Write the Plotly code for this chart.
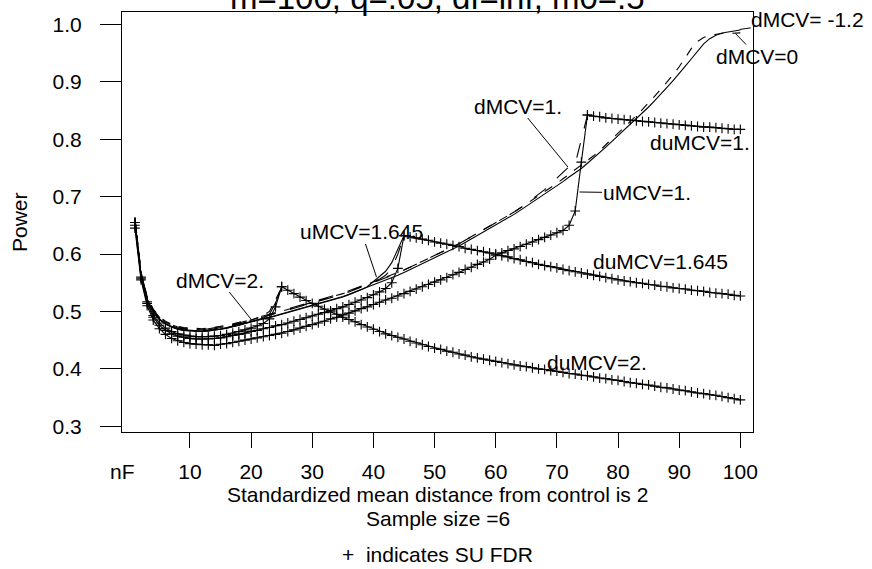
import plotly.graph_objects as go

# ---------------- data ----------------
x_all = list(range(1, 101))

d_m12 = [0.660, 0.565, 0.522, 0.500, 0.487, 0.479, 0.474, 0.470, 0.468, 0.467,
         0.466, 0.466, 0.467, 0.468, 0.470, 0.472, 0.474, 0.477, 0.480, 0.483,
         0.486, 0.488, 0.490, 0.493, 0.495, 0.498, 0.501, 0.504, 0.507, 0.510,
         0.513, 0.516, 0.519, 0.522, 0.526, 0.530, 0.534, 0.538, 0.542, 0.546,
         0.550, 0.554, 0.559, 0.563, 0.568, 0.573, 0.578, 0.583, 0.588, 0.593,
         0.598, 0.603, 0.608, 0.614, 0.620, 0.626, 0.632, 0.638, 0.644, 0.650,
         0.656, 0.662, 0.669, 0.676, 0.683, 0.690, 0.697, 0.704, 0.711, 0.718,
         0.726, 0.734, 0.741, 0.749, 0.758, 0.767, 0.776, 0.786, 0.796, 0.806,
         0.815, 0.825, 0.835, 0.845, 0.856, 0.867, 0.878, 0.890, 0.902, 0.914,
         0.927, 0.940, 0.953, 0.966, 0.975, 0.981, 0.985, 0.987, 0.989, 0.990]

d_0 = [0.662, 0.567, 0.524, 0.502, 0.489, 0.481, 0.476, 0.472, 0.470, 0.469,
       0.468, 0.468, 0.469, 0.470, 0.472, 0.474, 0.476, 0.479, 0.482, 0.485,
       0.488, 0.491, 0.494, 0.497, 0.500, 0.503, 0.506, 0.509, 0.512, 0.515,
       0.518, 0.521, 0.524, 0.527, 0.531, 0.535, 0.539, 0.543, 0.547, 0.551,
       0.555, 0.559, 0.563, 0.567, 0.572, 0.577, 0.582, 0.587, 0.592, 0.597,
       0.602, 0.607, 0.612, 0.618, 0.624, 0.630, 0.636, 0.642, 0.648, 0.654,
       0.660, 0.666, 0.673, 0.680, 0.687, 0.694, 0.701, 0.708, 0.716, 0.723,
       0.731, 0.739, 0.746, 0.754, 0.762, 0.771, 0.780, 0.790, 0.800, 0.810,
       0.820, 0.830, 0.841, 0.852, 0.863, 0.875, 0.887, 0.899, 0.912, 0.926,
       0.941, 0.958, 0.970, 0.977, 0.981, 0.983, 0.984, 0.984, 0.984, 0.985]

x_75 = list(range(1, 76))
d_1 = [0.661, 0.566, 0.523, 0.501, 0.488, 0.480, 0.475, 0.471, 0.469, 0.468,
       0.467, 0.467, 0.468, 0.469, 0.471, 0.473, 0.475, 0.478, 0.481, 0.484,
       0.487, 0.490, 0.493, 0.496, 0.499, 0.502, 0.505, 0.508, 0.511, 0.514,
       0.517, 0.520, 0.523, 0.526, 0.530, 0.534, 0.538, 0.542, 0.546, 0.550,
       0.554, 0.558, 0.563, 0.567, 0.572, 0.577, 0.582, 0.587, 0.592, 0.597,
       0.602, 0.607, 0.612, 0.618, 0.624, 0.630, 0.636, 0.642, 0.648, 0.654,
       0.660, 0.666, 0.673, 0.680, 0.687, 0.696, 0.704, 0.712, 0.722, 0.732,
       0.742, 0.752, 0.757, 0.800, 0.842]
u_1 = [0.645, 0.555, 0.510, 0.485, 0.470, 0.460, 0.453, 0.449, 0.446, 0.444,
       0.443, 0.442, 0.442, 0.441, 0.443, 0.444, 0.446, 0.448, 0.450, 0.452,
       0.454, 0.456, 0.458, 0.460, 0.462, 0.465, 0.468, 0.471, 0.474, 0.477,
       0.480, 0.483, 0.487, 0.490, 0.494, 0.497, 0.501, 0.505, 0.508, 0.512,
       0.516, 0.520, 0.523, 0.527, 0.531, 0.535, 0.539, 0.543, 0.547, 0.551,
       0.555, 0.559, 0.564, 0.568, 0.573, 0.577, 0.582, 0.586, 0.591, 0.598,
       0.602, 0.606, 0.609, 0.613, 0.617, 0.621, 0.625, 0.629, 0.633, 0.637,
       0.641, 0.650, 0.675, 0.760, 0.842]

x_45 = list(range(1, 46))
d_1645 = [0.663, 0.568, 0.525, 0.503, 0.490, 0.482, 0.477, 0.473, 0.471, 0.470,
          0.469, 0.469, 0.470, 0.471, 0.473, 0.475, 0.477, 0.480, 0.483, 0.486,
          0.489, 0.492, 0.495, 0.498, 0.501, 0.504, 0.507, 0.510, 0.513, 0.516,
          0.519, 0.522, 0.525, 0.528, 0.532, 0.536, 0.540, 0.544, 0.548, 0.552,
          0.556, 0.563, 0.575, 0.600, 0.632]
u_1645 = [0.658, 0.563, 0.520, 0.498, 0.486, 0.478, 0.473, 0.469, 0.467, 0.466,
          0.465, 0.465, 0.466, 0.467, 0.469, 0.471, 0.473, 0.476, 0.479, 0.482,
          0.485, 0.487, 0.489, 0.492, 0.494, 0.497, 0.500, 0.503, 0.506, 0.509,
          0.512, 0.515, 0.518, 0.521, 0.525, 0.529, 0.533, 0.538, 0.543, 0.552,
          0.562, 0.570, 0.585, 0.607, 0.632]
su_1645 = [0.650, 0.558, 0.514, 0.490, 0.476, 0.467, 0.461, 0.457, 0.455, 0.453,
           0.452, 0.452, 0.452, 0.453, 0.454, 0.456, 0.458, 0.460, 0.462, 0.465,
           0.467, 0.470, 0.472, 0.475, 0.477, 0.480, 0.483, 0.486, 0.489, 0.492,
           0.495, 0.498, 0.501, 0.505, 0.508, 0.512, 0.516, 0.520, 0.524, 0.529,
           0.534, 0.540, 0.550, 0.575, 0.632]

x_25 = list(range(1, 26))
d_2 = [0.664, 0.569, 0.526, 0.504, 0.491, 0.483, 0.478, 0.474, 0.472, 0.471,
       0.470, 0.470, 0.471, 0.472, 0.474, 0.476, 0.478, 0.481, 0.484, 0.485,
       0.489, 0.493, 0.500, 0.520, 0.543]
u_2 = [0.659, 0.564, 0.521, 0.499, 0.486, 0.478, 0.473, 0.469, 0.467, 0.466,
       0.465, 0.465, 0.466, 0.467, 0.469, 0.471, 0.473, 0.476, 0.479, 0.482,
       0.485, 0.488, 0.495, 0.515, 0.543]
su_2 = [0.655, 0.560, 0.517, 0.493, 0.480, 0.471, 0.465, 0.461, 0.459, 0.457,
        0.456, 0.456, 0.456, 0.457, 0.458, 0.460, 0.462, 0.465, 0.468, 0.471,
        0.475, 0.479, 0.487, 0.508, 0.543]

x_du1 = list(range(75, 101))
du_1 = [0.842, 0.840, 0.839, 0.837, 0.836, 0.835, 0.834, 0.833, 0.832, 0.831,
        0.830, 0.829, 0.828, 0.827, 0.826, 0.825, 0.824, 0.823, 0.822, 0.821,
        0.821, 0.820, 0.819, 0.818, 0.817, 0.817]

x_du1645 = list(range(45, 101))
du_1645 = [0.632, 0.630, 0.628, 0.626, 0.624, 0.621, 0.619, 0.617, 0.615, 0.613,
           0.610, 0.608, 0.606, 0.604, 0.602, 0.600, 0.597, 0.595, 0.592, 0.590,
           0.587, 0.585, 0.582, 0.580, 0.578, 0.576, 0.573, 0.571, 0.569, 0.567,
           0.565, 0.563, 0.561, 0.559, 0.557, 0.555, 0.553, 0.552, 0.550, 0.549,
           0.547, 0.546, 0.544, 0.543, 0.541, 0.540, 0.539, 0.537, 0.536, 0.535,
           0.533, 0.532, 0.531, 0.530, 0.528, 0.527]

x_du2 = list(range(25, 101))
du_2 = [0.543, 0.537, 0.531, 0.525, 0.519, 0.514, 0.509, 0.504, 0.499, 0.495,
        0.490, 0.486, 0.482, 0.477, 0.473, 0.469, 0.465, 0.461, 0.458, 0.455,
        0.452, 0.448, 0.445, 0.442, 0.439, 0.436, 0.434, 0.431, 0.429, 0.426,
        0.424, 0.421, 0.419, 0.417, 0.415, 0.413, 0.411, 0.409, 0.407, 0.405,
        0.404, 0.402, 0.400, 0.399, 0.397, 0.396, 0.394, 0.392, 0.391, 0.389,
        0.388, 0.386, 0.384, 0.383, 0.381, 0.380, 0.378, 0.376, 0.375, 0.373,
        0.372, 0.370, 0.368, 0.367, 0.365, 0.363, 0.362, 0.360, 0.358, 0.357,
        0.355, 0.354, 0.352, 0.350, 0.348, 0.346]

x_tickvals = [10, 20, 30, 40, 50, 60, 70, 80, 90, 100]
y_tickvals = [0.3, 0.4, 0.5, 0.6, 0.7, 0.8, 0.9, 1.0]

FONT = "Liberation Sans, Arial, sans-serif"
BLACK = "#000000"

fig = go.Figure()

def add_line(x, y, name, dash="solid", plus=False):
    fig.add_trace(go.Scatter(
        x=x, y=y, name=name,
        mode="lines+markers" if plus else "lines",
        line=dict(color=BLACK, width=1.1, dash=dash),
        marker=dict(symbol="cross-thin", size=7,
                    line=dict(color=BLACK, width=1.1)) if plus else None,
        showlegend=False, hoverinfo="skip"))

add_line(x_all, d_m12, "dMCV=-1.2")
add_line(x_all, d_0, "dMCV=0", dash="dash")
add_line(x_75, d_1, "dMCV=1", dash="longdash")
add_line(x_75, u_1, "uMCV=1", plus=True)
add_line(x_45, d_1645, "dMCV=1.645", dash="longdash")
add_line(x_45, u_1645, "uMCV=1.645")
add_line(x_45, su_1645, "SU 1.645", plus=True)
add_line(x_25, d_2, "dMCV=2", dash="dash")
add_line(x_25, u_2, "uMCV=2")
add_line(x_25, su_2, "SU 2", plus=True)
add_line(x_du1, du_1, "duMCV=1", plus=True)
add_line(x_du1645, du_1645, "duMCV=1.645", plus=True)
add_line(x_du2, du_2, "duMCV=2", plus=True)

tf = dict(family=FONT, size=21, color=BLACK)

def label(text, x, y, ax=None, ay=None):
    if ax is None:
        fig.add_annotation(x=x, y=y, xref="x", yref="y", text=text,
                           showarrow=False, font=tf,
                           xanchor="center", yanchor="middle")
    else:
        fig.add_annotation(x=x, y=y, xref="x", yref="y", text=text,
                           showarrow=True, arrowhead=0, arrowwidth=1,
                           arrowcolor=BLACK, ax=ax, ay=ay, standoff=0,
                           font=tf, borderpad=0)

label("dMCV= -1.2", 99.9, 0.991, 68, -10)
label("dMCV=0", 99.2, 0.984, 22, 23)
label("dMCV=1.", 71.8, 0.7515, -50, -61)
label("uMCV=1.", 73.7, 0.708, 67, 1)
label("uMCV=1.645", 40.5, 0.56, -15, -45)
label("dMCV=2.", 20.1, 0.485, -32, -40)
label("duMCV=1.", 93.4, 0.794)
label("duMCV=1.645", 87.0, 0.5865)
label("duMCV=2.", 76.6, 0.4106)

# title (partly cut off at the top, as in the reference)
fig.add_annotation(x=0.5, y=1.0352, xref="paper", yref="paper",
                   text="m=100, q=.05, df=inf, m0=.5", showarrow=False,
                   font=dict(family=FONT, size=33, color=BLACK),
                   xanchor="center", yanchor="middle")

# "nF" at the start of the x axis
fig.add_annotation(x=0.0, y=-0.093, xref="paper", yref="paper", text="nF",
                   showarrow=False, font=tf, xanchor="center", yanchor="middle")

# x axis captions
PH = 420.0
def py(p):
    return (431.7 - p) / PH

fig.add_annotation(x=0.5, y=py(494), xref="paper", yref="paper",
                   text="Standardized mean distance from control is 2",
                   showarrow=False, font=tf, xanchor="center", yanchor="middle")
fig.add_annotation(x=0.5, y=py(518), xref="paper", yref="paper",
                   text="Sample size =6",
                   showarrow=False, font=tf, xanchor="center", yanchor="middle")
fig.add_annotation(x=0.5, y=py(554), xref="paper", yref="paper",
                   text="+  indicates SU FDR",
                   showarrow=False, font=tf, xanchor="center", yanchor="middle")
fig.add_annotation(x=(19 - 122) / 631.3, y=0.5, xref="paper", yref="paper",
                   text="Power", textangle=-90,
                   showarrow=False, font=tf, xanchor="center", yanchor="middle")

fig.update_layout(
    width=872, height=569,
    margin=dict(l=122, r=118.7, t=11.7, b=137.3),
    paper_bgcolor="white", plot_bgcolor="white",
    font=tf, hovermode=False,
    xaxis=dict(range=[-1.11, 102.07], tickvals=x_tickvals,
               ticktext=[str(v) for v in x_tickvals],
               ticks="outside", ticklen=15, tickwidth=1, tickcolor=BLACK,
               showline=True, linecolor=BLACK, linewidth=1, mirror=True,
               showgrid=False, zeroline=False, tickfont=tf,
               ticklabelstandoff=6),
    yaxis=dict(range=[0.2901, 1.0214], tickvals=y_tickvals,
               ticktext=["%.1f" % v for v in y_tickvals],
               ticks="outside", ticklen=21, tickwidth=1, tickcolor=BLACK,
               showline=True, linecolor=BLACK, linewidth=1, mirror=True,
               showgrid=False, zeroline=False, tickfont=tf,
               ticklabelstandoff=14),
)

fig.write_html(
    "out.html",
    config={"displayModeBar": False, "staticPlot": True},
    post_script="document.body.style.margin='0';document.body.style.padding='0';"
                "document.documentElement.style.overflow='hidden';",
)
